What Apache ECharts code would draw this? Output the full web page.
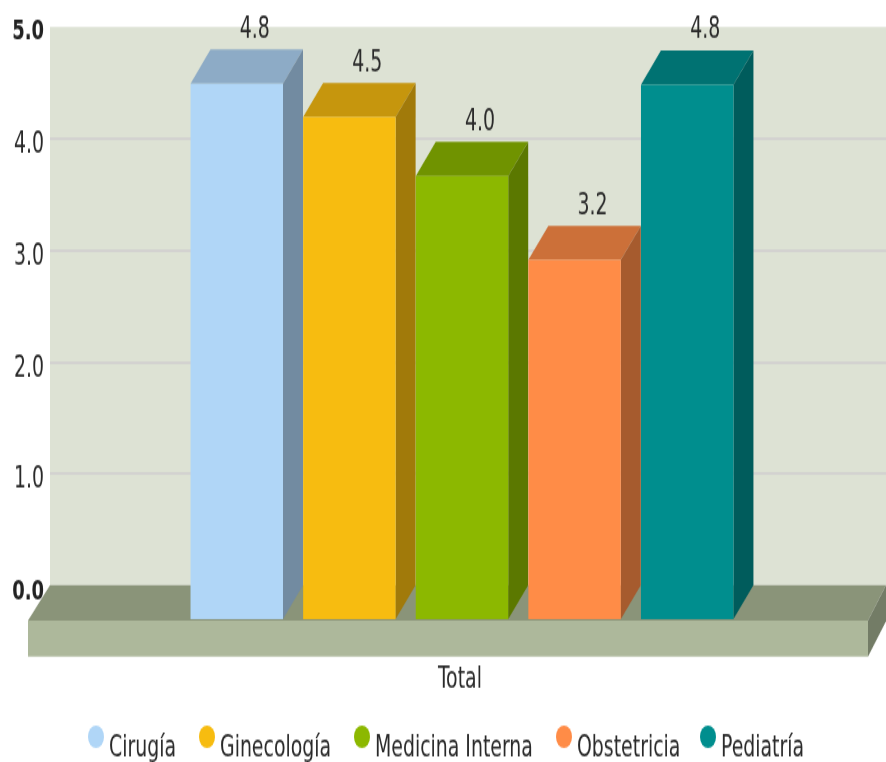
<!DOCTYPE html>
<html>
<head>
<meta charset="utf-8">
<style>
html,body{margin:0;padding:0;background:#fff;width:886px;height:762px}
#wrap{width:886px;height:762px;overflow:hidden}
#c{width:886px;height:544px;transform-origin:0 0;transform:scale(1,1.4007)}
</style>
<script src="https://cdn.jsdelivr.net/npm/echarts@6/dist/echarts.min.js"></script>
</head>
<body>
<div id="wrap"><div id="c"></div></div>
<script>
const categories = ['Total'];
const seriesNames = ['Cirugía', 'Ginecología', 'Medicina Interna', 'Obstetricia', 'Pediatría'];
const seriesValues = [4.8, 4.5, 3.97, 3.22, 4.79];
const seriesColors = ['#b0d6f7', '#f7bc10', '#8cb800', '#ff8c47', '#008e8e'];
const legendLefts = [83, 194, 349, 551, 695];

const FONT = '"DejaVu Sans Condensed","DejaVu Sans",sans-serif';
const FS = 21;
const INK = '#2a2a2a';
const DX = 20, DY = 24.4;
const shade = (hex, f) => {
  const n = parseInt(hex.slice(1), 16);
  const c = [(n >> 16) & 255, (n >> 8) & 255, n & 255].map(v => Math.round(v * f));
  return `rgb(${c.join(',')})`;
};

const chart = echarts.init(document.getElementById('c'), null, { renderer: 'canvas' });

const barSeries = seriesNames.map((name, i) => ({
  name,
  type: 'custom',
  coordinateSystem: 'cartesian2d',
  itemStyle: { color: seriesColors[i] },
  clip: false,
  z: 5,
  data: [[categories[0], seriesValues[i]]],
  renderItem(params, api) {
    const top = api.coord([0, api.value(1)]);
    const base = api.coord([0, 0]);
    const band = api.size([1, 0])[0];
    const pitch = band * 0.1347, w = band * 0.1106;
    const cx = top[0] - band * 0.0072 + (i - 2) * pitch;
    const l = cx - w / 2, r = cx + w / 2;
    const ty = top[1] + DY, by = base[1] + DY;
    const col = seriesColors[i];
    return {
      type: 'group',
      children: [
        { type: 'polygon', shape: { points: [[l, ty], [r, ty], [r + DX, ty - DY], [l + DX, ty - DY]] }, style: { fill: shade(col, 0.8) } },
        { type: 'polygon', shape: { points: [[r, ty], [r + DX, ty - DY], [r + DX, by - DY], [r, by]] }, style: { fill: shade(col, 0.65) } },
        { type: 'rect', shape: { x: l, y: ty, width: w, height: by - ty }, style: { fill: col } },
        { type: 'text', style: { text: api.value(1).toFixed(1), x: cx + DX - 2, y: ty - DY - 14, align: 'center', verticalAlign: 'middle', fill: INK, font: FS + 'px ' + FONT } }
      ]
    };
  }
}));

const floorSeries = {
  name: 'floor',
  type: 'custom',
  coordinateSystem: 'cartesian2d',
  silent: true,
  clip: false,
  z: 3,
  data: [[categories[0], 0]],
  renderItem(params, api) {
    const y0 = api.coord([0, 0])[1];
    const x = params.coordSys.x, x2 = x + params.coordSys.width;
    const fl = x - 22, fr = x2 - 18, fy = y0 + 25.3, fh = 25.7;
    return {
      type: 'group',
      children: [
        { type: 'polygon', shape: { points: [[fl, fy], [fr, fy], [x2, y0], [x, y0]] }, style: { fill: '#8a9479' } },
        { type: 'rect', shape: { x: fl, y: fy, width: fr - fl, height: fh }, style: { fill: '#adb89b' } },
        { type: 'polygon', shape: { points: [[fr, fy], [x2, y0], [x2, y0 + fh], [fr, fy + fh]] }, style: { fill: '#737c66' } }
      ]
    };
  }
};

chart.setOption({
  animation: false,
  backgroundColor: '#fff',
  color: seriesColors,
  grid: { left: 50, top: 19.3, right: 0, height: 398.4, backgroundColor: '#dde2d4', show: true, borderWidth: 0 },
  xAxis: {
    type: 'category',
    data: categories,
    axisLine: { show: false },
    axisTick: { show: false },
    splitLine: { show: false },
    axisLabel: { color: INK, fontFamily: FONT, fontSize: FS, margin: 57, padding: [0, 16, 0, 0] }
  },
  yAxis: {
    type: 'value',
    min: 0, max: 5, interval: 1,
    axisLine: { show: false },
    axisTick: { show: false },
    splitLine: { show: true, showMinLine: false, showMaxLine: false, lineStyle: { color: '#cfcdcf', width: 1.5 } },
    axisLabel: {
      color: INK, fontFamily: FONT, fontSize: FS, margin: 6,
      padding: [6, 0, 0, 0],
      formatter: v => {
        const s = v.toFixed(1);
        if (v === 0) return `{z|${s}}`;
        if (v === 5) return `{b|${s}}`;
        return `{n|${s}}`;
      },
      rich: {
        n: { fontFamily: FONT, fontSize: FS, color: INK, padding: [4, 0, 0, 0] },
        b: { fontWeight: 'bold', fontFamily: FONT, fontSize: FS - 1, color: '#222' },
        z: { fontWeight: 'bold', fontFamily: FONT, fontSize: FS - 1, color: '#222', padding: [5, 0, 0, 0] }
      }
    }
  },
  legend: seriesNames.map((name, i) => ({
    data: [name],
    left: legendLefts[i],
    top: 513,
    orient: 'horizontal',
    icon: 'circle',
    symbolKeepAspect: false,
    itemWidth: 16, itemHeight: 16,
    selectedMode: false,
    formatter: n => `{t|${n}}`,
    textStyle: {
      color: INK, fontFamily: FONT, fontSize: FS,
      rich: { t: { color: INK, fontFamily: FONT, fontSize: FS, padding: [17, 0, 0, 0] } }
    }
  })),
  series: [floorSeries, ...barSeries]
});
</script>
</body>
</html>
